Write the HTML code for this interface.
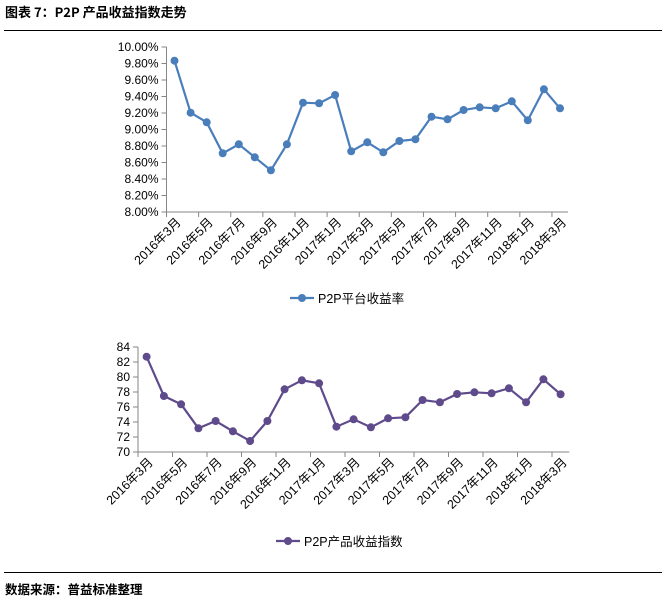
<!DOCTYPE html>
<html><head><meta charset="utf-8"><style>
body{margin:0;background:#fff;}
svg{display:block;font-family:"Liberation Sans","Noto Sans CJK SC",sans-serif;}
</style></head><body>
<svg id="s" width="666" height="606" xmlns="http://www.w3.org/2000/svg">
<text x="5" y="17" font-size="13" font-weight="bold" font-family="'Noto Sans CJK SC',sans-serif">图表 7：P2P 产品收益指数走势</text>
<line x1="4" y1="30.5" x2="662" y2="30.5" stroke="#000" stroke-width="1"/>
<line x1="4" y1="572.5" x2="662" y2="572.5" stroke="#000" stroke-width="1"/>
<text x="5" y="594" font-size="12.5" font-weight="bold" font-family="'Noto Sans CJK SC',sans-serif">数据来源：普益标准整理</text>
<g id="g"></g>
</svg>
<script>
var g=document.getElementById('g'),h='';
var labs=['2016年3月','2016年5月','2016年7月','2016年9月','2016年11月','2017年1月','2017年3月','2017年5月','2017年7月','2017年9月','2017年11月','2018年1月','2018年3月'];
function chart(o){
 h+='<line x1="'+o.ax+'" y1="'+o.y0+'" x2="'+o.ax+'" y2="'+o.y1+'" stroke="#868686"/>';
 for(var i=0;i<o.yl.length;i++){var y=o.y0+(o.y1-o.y0)*i/(o.yl.length-1);
  h+='<line x1="'+(o.ax-5)+'" y1="'+y+'" x2="'+o.ax+'" y2="'+y+'" stroke="#868686"/>';
  h+='<text x="'+(o.ax-8)+'" y="'+(y+4)+'" font-size="12" text-anchor="end">'+o.yl[i]+'</text>';}
 var w=o.cw*25;
 h+='<line x1="'+o.ax+'" y1="'+o.y1+'" x2="'+(o.ax+w)+'" y2="'+o.y1+'" stroke="#868686"/>';
 for(var k=0;k<=12;k++){var x=o.ax+k*2*o.cw;
  h+='<line x1="'+x+'" y1="'+o.y1+'" x2="'+x+'" y2="'+(o.y1+5)+'" stroke="#868686"/>';
  var lx=o.ax+o.cw*(2*k+0.5)+4,ly=o.y1+8;
  h+='<text transform="translate('+lx+','+ly+') rotate(-45)" font-size="12.5" text-anchor="end" dy="0.35em">'+labs[k]+'</text>';}
 var pts=o.py.map(function(v,i){return [(o.ax+o.cw*(i+0.5)).toFixed(1),v.toFixed(1)]});
 h+='<polyline fill="none" stroke="'+o.c+'" stroke-width="2.2" points="'+pts.map(function(p){return p.join(',')}).join(' ')+'"/>';
 pts.forEach(function(p){h+='<circle cx="'+p[0]+'" cy="'+p[1]+'" r="4" fill="'+o.c+'"/>';});
 h+='<line x1="'+o.lx+'" y1="'+o.ly+'" x2="'+(o.lx+24)+'" y2="'+o.ly+'" stroke="'+o.c+'" stroke-width="2.2"/>';
 h+='<circle cx="'+(o.lx+12)+'" cy="'+o.ly+'" r="4" fill="'+o.c+'"/>';
 h+='<text x="'+(o.lx+28)+'" y="'+(o.ly+5)+'" font-size="12.5">'+o.lt+'</text>';
}
var t=[62,218,247,340,313,352,391,313,188,190,165,334,307,337,303,298,230,238,210,202,205,184,241,148,205].map(function(v){return 40+v/3});
chart({ax:166.5,y0:47,y1:212,cw:16.06,c:'#4a7ebb',py:t,
 yl:['10.00%','9.80%','9.60%','9.40%','9.20%','9.00%','8.80%','8.60%','8.40%','8.20%','8.00%'],lx:290,ly:298,lt:'P2P平台收益率'});
var b=[50,168,193,265,243,274,303,243,148,121,130,260,238,262,235,232,180,187,162,157,160,145,187,118,163].map(function(v){return 340+v/3});
chart({ax:138,y0:347,y1:452,cw:17.25,c:'#5f4b8b',py:b,
 yl:['84','82','80','78','76','74','72','70'],lx:276,ly:541,lt:'P2P产品收益指数'});
g.innerHTML=h;
</script>
</body></html>
